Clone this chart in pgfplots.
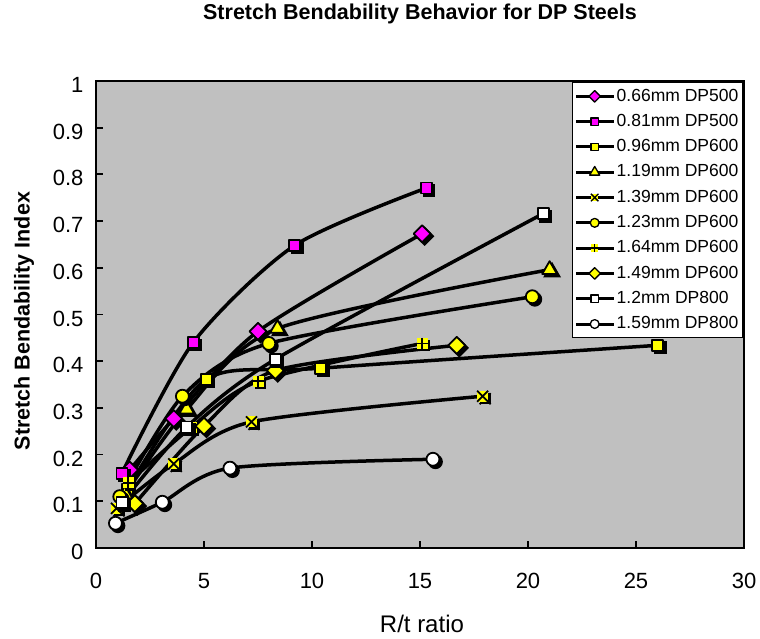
\documentclass[border=0pt]{standalone}
\usepackage{fontspec}
\setmainfont{Liberation Sans}
\usepackage{pgfplots}
\pgfplotsset{compat=1.18}
\usepackage{pgfplotstable}

\definecolor{plotgray}{RGB}{192,192,192}
\definecolor{mag}{RGB}{255,0,255}
\definecolor{yel}{RGB}{255,255,0}

% yellow square with black X / plus on top (Excel style markers)
\pgfdeclareplotmark{xsq}{%
  \pgfpathrectangle{\pgfqpoint{-\pgfplotmarksize}{-\pgfplotmarksize}}{\pgfqpoint{2\pgfplotmarksize}{2\pgfplotmarksize}}%
  \pgfusepathqfill
  \pgfpathmoveto{\pgfqpoint{-\pgfplotmarksize}{-\pgfplotmarksize}}%
  \pgfpathlineto{\pgfqpoint{\pgfplotmarksize}{\pgfplotmarksize}}%
  \pgfpathmoveto{\pgfqpoint{-\pgfplotmarksize}{\pgfplotmarksize}}%
  \pgfpathlineto{\pgfqpoint{\pgfplotmarksize}{-\pgfplotmarksize}}%
  \pgfusepathqstroke}
\pgfdeclareplotmark{plussq}{%
  \pgfpathrectangle{\pgfqpoint{-\pgfplotmarksize}{-\pgfplotmarksize}}{\pgfqpoint{2\pgfplotmarksize}{2\pgfplotmarksize}}%
  \pgfusepathqfill
  \pgfpathmoveto{\pgfqpoint{-\pgfplotmarksize}{0pt}}%
  \pgfpathlineto{\pgfqpoint{\pgfplotmarksize}{0pt}}%
  \pgfpathmoveto{\pgfqpoint{0pt}{\pgfplotmarksize}}%
  \pgfpathlineto{\pgfqpoint{0pt}{-\pgfplotmarksize}}%
  \pgfusepathqstroke}

% data
\pgfplotstableread{
x y
1.56 0.167
3.6 0.277
7.5 0.464
15.1 0.673
}\tA
\pgfplotstableread{
x y
1.2 0.16
4.5 0.44
9.2 0.648
15.3 0.771
}\tB
\pgfplotstableread{
x y
1.45 0.125
5.1 0.361
10.4 0.385
26.0 0.434
}\tC
\pgfplotstableread{
x y
1.35 0.115
4.2 0.297
8.4 0.47
21.0 0.596
}\tD
\pgfplotstableread{
x y
0.95 0.085
3.6 0.18
7.2 0.27
17.9 0.325
}\tE
\pgfplotstableread{
x y
1.1 0.11
4.0 0.325
8.0 0.438
20.2 0.538
}\tF
\pgfplotstableread{
x y
1.5 0.14
4.4 0.258
7.5 0.357
15.1 0.438
}\tG
\pgfplotstableread{
x y
1.8 0.095
5.0 0.261
8.3 0.38
16.7 0.434
}\tH
\pgfplotstableread{
x y
1.2 0.097
4.2 0.259
8.3 0.404
20.7 0.716
}\tI
\pgfplotstableread{
x y
0.9 0.053
3.07 0.098
6.2 0.171
15.6 0.19
}\tJ

\pgfplotsset{
  ser/.style={black, line width=3.5pt, smooth, tension=0.45, line join=round},
  mk/.style={mark options={solid, draw=black, line width=1.8pt, #1}},
  shad/.style={only marks, forget plot, black,
    mark options={solid, draw=black, fill=black, line width=1.8pt,
      xshift=2.5pt, yshift=-2.5pt, #1}},
}

\begin{document}
\begin{tikzpicture}
\useasboundingbox (-96pt,-91pt) rectangle (664pt,548pt);
\begin{axis}[
    scale only axis,
    width=648pt, height=467pt,
    xmin=0, xmax=30, ymin=0, ymax=1,
    xtick={0,5,10,15,20,25,30},
    ytick={0,0.1,0.2,0.3,0.4,0.5,0.6,0.7,0.8,0.9,1},
    yticklabels={0,0.1,0.2,0.3,0.4,0.5,0.6,0.7,0.8,0.9,1},
    tick pos=left, tick align=inside,
    major tick length=7pt,
    every tick/.style={black, line width=1.8pt},
    axis line style={line width=1.8pt},
    axis background/.style={fill=plotgray},
    /pgf/number format/assume math mode=true,
    ticklabel style={font=\fontsize{22}{26}\selectfont},
    xticklabel style={yshift=-22pt},
    yticklabel style={xshift=-9pt, yshift=-4pt},
    title={Stretch Bendability Behavior for DP Steels},
    title style={at={(axis description cs:0.5,1.1178)}, anchor=base,
      font=\fontsize{21.5}{26}\bfseries\selectfont},
    xlabel={R/t ratio},
    every axis x label/.style={at={(axis description cs:0.503,-0.182)}, anchor=base,
      font=\fontsize{24}{28}\selectfont},
    ylabel={Stretch Bendability Index},
    every axis y label/.style={at={(axis description cs:-0.111,0.486)}, rotate=90, anchor=center,
      font=\fontsize{21.5}{26}\bfseries\selectfont},
    legend style={at={(0.9985,0.998)}, anchor=north east, draw=black, line width=1.5pt,
      fill=white, font=\fontsize{17.5}{21}\selectfont,
      inner xsep=2pt, inner ysep=1pt, row sep=0pt,
      nodes={inner xsep=2pt, inner ysep=4.4pt, text height=13pt, text depth=3.5pt}},
    legend cell align=left,
    legend image code/.code={%
      \draw[mark repeat=2, mark phase=2, #1, line width=3pt,
        every mark/.append style={scale=0.68, line width=1.3pt}]
        plot coordinates {(0pt,0pt) (18.5pt,0pt) (37pt,0pt)};},
]

\addplot[shad={rotate=45}, mark=square*, mark size=6] table {\tA};
\addplot[ser, mark=square*, mark size=6, mk={fill=mag, rotate=45}] table {\tA};
\addlegendentry{0.66mm DP500}

\addplot[shad, mark=square*, mark size=5.5] table {\tB};
\addplot[ser, mark=square*, mark size=5.5, mk={fill=mag}] table {\tB};
\addlegendentry{0.81mm DP500}

\addplot[shad, mark=square*, mark size=5.5] table {\tC};
\addplot[ser, mark=square*, mark size=5.5, mk={fill=yel}] table {\tC};
\addlegendentry{0.96mm DP600}

\addplot[shad, mark=triangle*, mark size=8.5] table {\tD};
\addplot[ser, mark=triangle*, mark size=8.5, mk={fill=yel}] table {\tD};
\addlegendentry{1.19mm DP600}

\addplot[shad, mark=xsq, mark size=5.5] table {\tE};
\addplot[ser, mark=xsq, mark size=5.5, mk={fill=yel}] table {\tE};
\addlegendentry{1.39mm DP600}

\addplot[shad, mark=*, mark size=6.5] table {\tF};
\addplot[ser, mark=*, mark size=6.5, mk={fill=yel}] table {\tF};
\addlegendentry{1.23mm DP600}

\addplot[shad, mark=plussq, mark size=5.5] table {\tG};
\addplot[ser, mark=plussq, mark size=5.5, mk={fill=yel}] table {\tG};
\addlegendentry{1.64mm DP600}

\addplot[shad={rotate=45}, mark=square*, mark size=6] table {\tH};
\addplot[ser, mark=square*, mark size=6, mk={fill=yel, rotate=45}] table {\tH};
\addlegendentry{1.49mm DP600}

\addplot[shad, mark=square*, mark size=5.5] table {\tI};
\addplot[ser, mark=square*, mark size=5.5, mk={fill=white}] table {\tI};
\addlegendentry{1.2mm DP800}

\addplot[shad, mark=*, mark size=6.5] table {\tJ};
\addplot[ser, mark=*, mark size=6.5, mk={fill=white}] table {\tJ};
\addlegendentry{1.59mm DP800}

\end{axis}
\end{tikzpicture}
\end{document}
